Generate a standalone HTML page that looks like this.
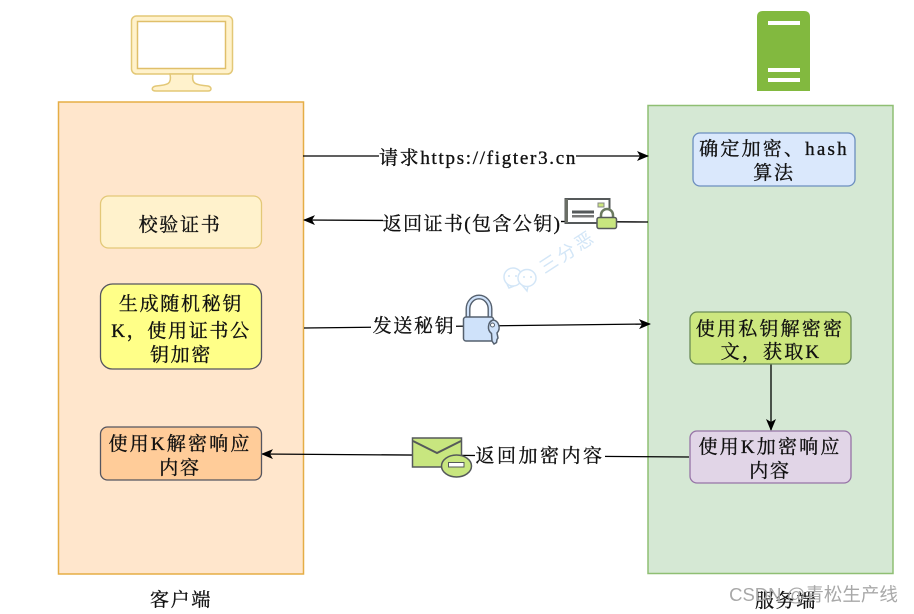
<!DOCTYPE html>
<html><head><meta charset="utf-8">
<style>
html,body{margin:0;padding:0;background:#fff;width:914px;height:614px;overflow:hidden}
svg{display:block}
text{font-family:"Liberation Serif","Noto Serif CJK SC",serif;font-size:19px;letter-spacing:1.700px;fill:#111;stroke:#111;stroke-width:.35px;text-anchor:middle}
text.w{letter-spacing:2.200px}
</style></head><body>
<svg width="914" height="614" viewBox="0 0 914 614" xmlns="http://www.w3.org/2000/svg">
<defs>
<marker id="a" markerWidth="12" markerHeight="10" refX="11" refY="5" orient="auto" markerUnits="userSpaceOnUse"><path d="M0,0 L12,5 L0,10 L3,5 Z" fill="#000"/></marker>
</defs>
<!-- containers -->
<rect x="58.500" y="102" width="245" height="472" fill="#ffe6cc" stroke="#e5ad45" stroke-width="1.500"/>
<rect x="648" y="105.500" width="245" height="468" fill="#d5e8d4" stroke="#8fbf73" stroke-width="1.500"/>
<!-- monitor -->
<rect x="131.500" y="16" width="101" height="58" rx="5" fill="#fff2cc" stroke="#e3c877" stroke-width="1.500"/>
<rect x="137.500" y="21.500" width="88" height="47" fill="#fff" stroke="#e0bf6a" stroke-width="1.500"/>
<path d="M170,74 C172,84 168,85 156,86 C151,87 151,91 156,91 L208,91 C212,91 212,87 208,86 C196,85 191,84 193,74 Z" fill="#fff2cc" stroke="#e3c877" stroke-width="1.500"/>
<!-- server -->
<path d="M757,17 Q757,11 763,11 L804,11 Q810,11 810,17 L810,91 L757,91 Z" fill="#82b93f"/>
<rect x="768" y="21" width="32" height="4" fill="#fff"/>
<rect x="768" y="68" width="32" height="4" fill="#fff"/>
<rect x="768" y="78" width="32" height="4" fill="#fff"/>
<!-- connectors -->
<line x1="303" y1="156" x2="648" y2="156" stroke="#000" stroke-width="1.300" marker-end="url(#a)"/>
<line x1="648" y1="222" x2="304" y2="220" stroke="#000" stroke-width="1.300" marker-end="url(#a)"/>
<line x1="304" y1="328" x2="650" y2="324" stroke="#000" stroke-width="1.300" marker-end="url(#a)"/>
<line x1="689" y1="457" x2="262" y2="454" stroke="#000" stroke-width="1.300" marker-end="url(#a)"/>
<line x1="771" y1="364" x2="771" y2="430" stroke="#000" stroke-width="1.300" marker-end="url(#a)"/>
<!-- connector labels -->
<rect x="379" y="146" width="197" height="22" fill="#fff"/>
<text x="478" y="164">请求https://figter3.cn</text>
<rect x="383" y="211" width="178" height="24" fill="#fff"/>
<text x="472" y="230" style="letter-spacing:1.400px">返回证书(包含公钥)</text>
<rect x="371" y="315" width="85" height="22" fill="#fff"/>
<text x="414" y="332">发送秘钥</text>
<rect x="475" y="446" width="130" height="22" fill="#fff"/>
<text x="540" y="462" style="letter-spacing:2.500px">返回加密内容</text>
<!-- client boxes -->
<rect x="100.500" y="196" width="161" height="52" rx="8" fill="#fff2cc" stroke="#e3c877" stroke-width="1.300"/>
<text x="180" y="231">校验证书</text>
<rect x="100.500" y="284" width="161" height="85" rx="12" fill="#ffff88" stroke="#55555f" stroke-width="1.300"/>
<text x="181" y="310">生成随机秘钥</text>
<text x="181" y="337">K，使用证书公</text>
<text x="181" y="361">钥加密</text>
<rect x="100.500" y="427" width="161" height="53" rx="7" fill="#ffcc99" stroke="#55555f" stroke-width="1.300"/>
<text class="w" x="180" y="450">使用K解密响应</text>
<text x="180" y="474">内容</text>
<!-- server boxes -->
<rect x="693" y="133" width="162" height="53" rx="7" fill="#dae8fc" stroke="#6c8ebf" stroke-width="1.300"/>
<text class="w" x="774" y="155">确定加密、hash</text>
<text x="774" y="179">算法</text>
<rect x="690" y="312" width="161" height="52" rx="7" fill="#cde77f" stroke="#6a8a55" stroke-width="1.300"/>
<text class="w" x="770" y="335">使用私钥解密密</text>
<text class="w" x="771" y="358">文，获取K</text>
<rect x="690" y="431" width="161" height="52" rx="7" fill="#e1d5e7" stroke="#9673a6" stroke-width="1.300"/>
<text class="w" x="770" y="453">使用K加密响应</text>
<text x="770" y="477">内容</text>
<!-- certificate icon -->
<rect x="565.500" y="199" width="44" height="24" fill="#fff" stroke="#55595a" stroke-width="2"/>
<rect x="565" y="199" width="3" height="24" fill="#6a6e66"/>
<rect x="598" y="203" width="6" height="4" fill="#cde77f" stroke="#888" stroke-width="1"/>
<rect x="572" y="210.500" width="22" height="3" fill="#55595a"/>
<rect x="572" y="215" width="22" height="2.500" fill="#777"/>
<!-- small lock -->
<path d="M601,218 v-3 a6,6 0 0 1 12,0 v3" fill="#fff" stroke="#6b7a60" stroke-width="2.500"/>
<rect x="597" y="217.500" width="19.500" height="11" rx="2" fill="#c8e67f" stroke="#55595a" stroke-width="1.500"/>
<!-- blue lock -->
<path d="M468,317 v-8 a11,12 0 0 1 22,0 v8" fill="none" stroke="#55606e" stroke-width="5"/>
<path d="M468,317 v-8 a11,12 0 0 1 22,0 v8" fill="none" stroke="#cfe2fa" stroke-width="2.200"/>
<rect x="463.500" y="317" width="30" height="24" rx="2.500" fill="#cfe2fa" stroke="#55606e" stroke-width="1.500"/>
<path d="M493,320 a6.500,7.500 0 0 1 4,13 l1,5 -1,1.500 -.5,3 -2.500,1.500 -2,-3 -.5,-7.500 a6.500,7.500 0 0 1 1.500,-13.500 Z" fill="#cfe2fa" stroke="#55606e" stroke-width="1.500"/>
<circle cx="492.500" cy="325" r="2" fill="#fff" stroke="#55606e" stroke-width="1"/>
<!-- envelope -->
<rect x="412.500" y="438" width="49" height="29" fill="#c8e67f" stroke="#55595a" stroke-width="1.500"/>
<path d="M413,441 L437,453 L461,441" fill="none" stroke="#55595a" stroke-width="2"/>
<ellipse cx="456.500" cy="466" rx="15" ry="11" fill="#c8e67f" stroke="#55595a" stroke-width="1.500"/>
<rect x="448.500" y="462.500" width="15.500" height="4.500" fill="#fff" stroke="#55595a" stroke-width="1"/>
<!-- watermark -->
<g fill="#fff" stroke="#d3e6f7" stroke-width="1.500">
<path d="M507,284 L509,288 L514,286"/>
<ellipse cx="513" cy="277" rx="9" ry="9"/>
<path d="M522,285 L527,291 L528,286"/>
<ellipse cx="527" cy="278" rx="9" ry="8.500"/>
</g>
<g fill="#d3e6f7"><circle cx="509" cy="276" r="1"/><circle cx="516" cy="276" r="1"/><circle cx="524" cy="277" r="1"/><circle cx="531" cy="277" r="1"/></g>
<text x="0" y="0" transform="translate(571,257) rotate(-33)" style="font-size:18px;letter-spacing:3px;stroke:none;fill:#d3e6f7;font-family:'Liberation Sans','Noto Sans CJK SC',sans-serif">三分恶</text>
<!-- captions -->
<text x="181" y="606">客户端</text>
<text x="786" y="607">服务端</text>
<text x="813.500" y="601" style="font-size:18.500px;letter-spacing:0;stroke:none;fill:#a8a8a8;font-family:'Liberation Sans','Noto Sans CJK SC',sans-serif">CSDN @青松生产线</text>
</svg>
</body></html>
